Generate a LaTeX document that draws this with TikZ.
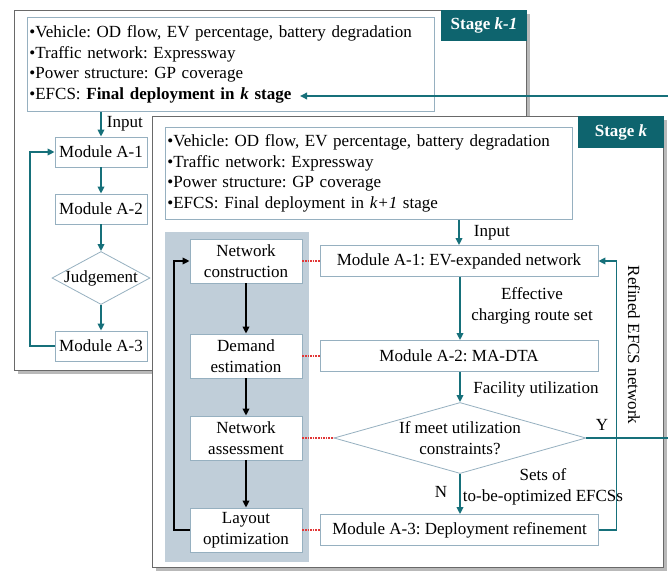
\documentclass[tikz,border=0pt]{standalone}
\usepackage{fontspec}
\setmainfont{Liberation Serif}
\frenchspacing
\usetikzlibrary{shapes.geometric,arrows.meta,positioning,shadows}
\definecolor{stageteal}{RGB}{14,100,110}
\definecolor{flowteal}{RGB}{22,112,122}
\definecolor{boxline}{RGB}{150,176,192}
\definecolor{panelgray}{RGB}{192,206,217}
\definecolor{framegray}{RGB}{105,105,105}
\definecolor{linkred}{RGB}{225,55,55}

\begin{document}
\begin{tikzpicture}[
    x=1pt, y=-1pt,
    every node/.style={font=\fontsize{17}{20.5}\selectfont, inner sep=2pt, text=black},
    stageframe/.style={rectangle, draw=framegray, line width=1.2pt, fill=white, anchor=north west,
                       drop shadow={shadow xshift=3pt, shadow yshift=-3pt, fill=gray, opacity=0.55}},
    stagetag/.style={rectangle, fill=stageteal, text=white, anchor=north east,
                     font=\fontsize{17}{20}\selectfont\bfseries, minimum width=86pt, minimum height=31pt},
    info/.style={rectangle, draw=boxline, line width=0.8pt, fill=white, anchor=north west,
                 align=left, text width=403pt, minimum height=93pt},
    module/.style={rectangle, draw=boxline, line width=0.8pt, fill=white,
                   minimum width=92pt, minimum height=30pt},
    bigmodule/.style={module, minimum width=278pt, minimum height=31pt},
    taskbox/.style={module, align=center, minimum width=112pt, minimum height=44pt, inner sep=1pt},
    judge/.style={diamond, draw=boxline, line width=0.8pt, fill=white, inner sep=0pt},
    panel/.style={rectangle, fill=panelgray, anchor=north west},
    flow/.style={-{Triangle[length=7pt,width=6.5pt]}, line width=1.8pt, color=flowteal},
    blackflow/.style={-{Triangle[length=7pt,width=6.5pt]}, line width=1.8pt, color=black},
    maplink/.style={densely dotted, line width=1.6pt, color=linkred}
]
\useasboundingbox (0,0) rectangle (668,572);

% Stage k-1
\node[stageframe, minimum width=512pt, minimum height=360pt] (framek1) at (14,10) {};
\node[stagetag] (tagk1) at (framek1.north east) {Stage \textit{k-1}};
\node[info, minimum height=94pt] (infok1) at (27,17) {%
  \textbullet Vehicle: OD flow, EV percentage, battery degradation\\
  \textbullet Traffic network: Expressway\\
  \textbullet Power structure: GP coverage\\
  \textbullet EFCS: \textbf{Final deployment in \textit{k} stage}};

\node[module] (ma1old) at (101,152) {Module A-1};
\node[module] (ma2old) at (101,209) {Module A-2};
\node[judge, minimum width=98pt, minimum height=53pt, label=center:Judgement] (judgeold) at (101,278) {};
\node[module] (ma3old) at (101,346) {Module A-3};

\draw[flow] (infok1.south -| ma1old.north) -- node[right, xshift=3pt] (inputold) {Input} (ma1old);
\draw[flow] (ma1old) -- (ma2old);
\draw[flow] (ma2old) -- (judgeold);
\draw[flow] (judgeold) -- (ma3old);
\draw[flow] (ma3old.west) -- ++(-25,0) |- (ma1old.west);

% Final deployment handed back from stage k
\coordinate (fromnext) at (668,96);
\coordinate (finaltip) at (300,96);
\draw[flow] (fromnext) -- (finaltip);

% Stage k
\node[stageframe, minimum width=511pt, minimum height=451pt] (framek) at (152,116) {};
\node[stagetag, minimum height=32pt] (tagk) at (framek.north east) {Stage \textit{k}};
\node[info, minimum height=92pt] (infok) at (165,127) {%
  \textbullet Vehicle: OD flow, EV percentage, battery degradation\\
  \textbullet Traffic network: Expressway\\
  \textbullet Power structure: GP coverage\\
  \textbullet EFCS: Final deployment in \textit{k+1} stage};

\node[panel, minimum width=144pt, minimum height=330pt] (steps) at (165,232) {};
\node[taskbox] (netcon) at (246,261) {Network\\construction};
\node[taskbox] (demand) at (246,356) {Demand\\estimation};
\node[taskbox] (netass) at (246,438) {Network\\assessment};
\node[taskbox] (layout) at (246,530) {Layout\\optimization};

\node[bigmodule] (ma1) at (459,261) {Module A-1: EV-expanded network};
\node[bigmodule] (ma2) at (459,356) {Module A-2: MA-DTA};
\node[judge, minimum width=252pt, minimum height=71pt,
      label={[align=center]center:If meet utilization\\constraints?}] (cond) at (460,438) {};
\node[bigmodule] (ma3) at (459.5,530) {Module A-3: Deployment refinement};

% Left column flow
\draw[blackflow] (netcon) -- (demand);
\draw[blackflow] (demand) -- (netass);
\draw[blackflow] (netass) -- (layout);
\draw[blackflow] (layout.west) -- ++(-16,0) |- (netcon.west);

% Links between steps and modules
\draw[maplink] (netcon.east) -- (ma1.west);
\draw[maplink] (demand.east) -- (ma2.west);
\draw[maplink] (netass.east) -- (cond.west);
\draw[maplink] (layout.east) -- (ma3.west);

% Module flow
\draw[flow] (infok.south -| ma1.north) -- node[right, xshift=12pt] (inputk) {Input} (ma1);
\draw[flow] (ma1.south -| cond.north) -- (ma2.north -| cond.north);
\draw[flow] (ma2.south -| cond.north) -- (cond.north);
\draw[flow] (cond.south) -- (ma3.north -| cond.south);
\draw[flow] (ma3.east) -- ++(17.5,0) |- (ma1.east);
\coordinate (yexit) at (668,438);
\draw[line width=1.8pt, flowteal] (cond.east) -- (yexit);

% Labels
\node[align=center] (routeset) at (532,306) {Effective\\charging route set};
\node (facility) at (536,389) {Facility utilization};
\node (ylab) at (602,425) {Y};
\node (nlab) at (441,492) {N};
\node[align=center] (optset) at (543,487) {Sets of\\to-be-optimized EFCSs};
\node[rotate=-90] (refined) at (634,345) {Refined EFCS network};

\end{tikzpicture}
\end{document}
